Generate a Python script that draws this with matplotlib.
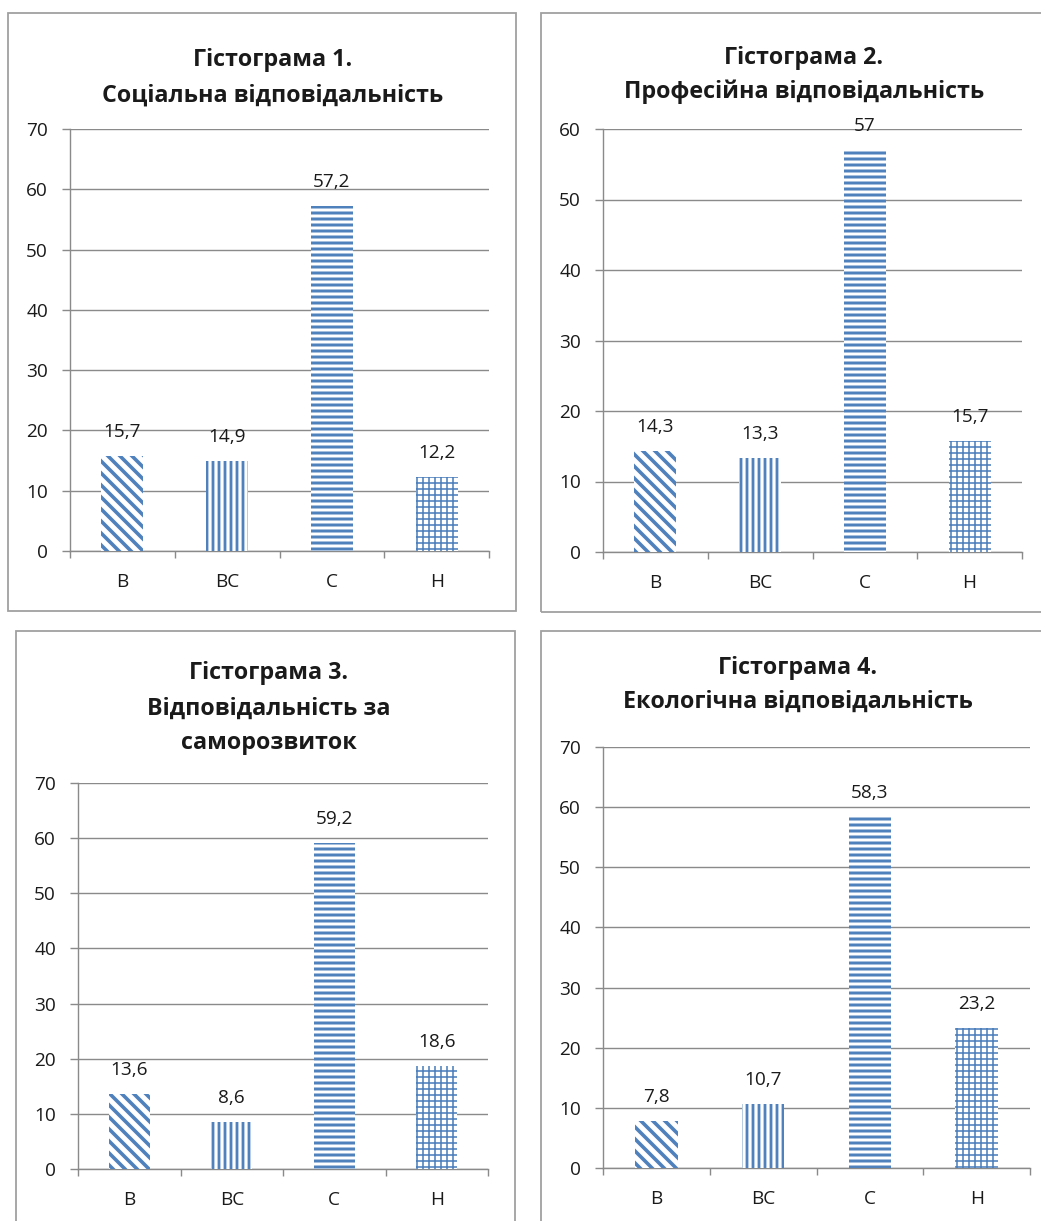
import matplotlib
matplotlib.use('Agg')
import matplotlib.pyplot as plt
from matplotlib.patches import Rectangle
from matplotlib.ticker import FixedLocator

# ---------------- data ----------------
categories = ['В', 'ВС', 'С', 'Н']

title_1 = ['Гістограма 1.', 'Соціальна відповідальність']
title_2 = ['Гістограма 2.', 'Професійна відповідальність']
title_3 = ['Гістограма 3.', 'Відповідальність за', 'саморозвиток']
title_4 = ['Гістограма 4.', 'Екологічна відповідальність']

values_1 = [15.7, 14.9, 57.2, 12.2]
values_2 = [14.3, 13.3, 57.0, 15.7]
values_3 = [13.6, 8.6, 59.2, 18.6]
values_4 = [7.8, 10.7, 58.3, 23.2]

labels_1 = ['15,7', '14,9', '57,2', '12,2']
labels_2 = ['14,3', '13,3', '57', '15,7']
labels_3 = ['13,6', '8,6', '59,2', '18,6']
labels_4 = ['7,8', '10,7', '58,3', '23,2']

ymax_1, ymax_2, ymax_3, ymax_4 = 70, 60, 70, 70

# ---------------- style ----------------
W, H = 1041, 1221
DPI = 144
plt.rcParams['font.family'] = ['Open Sans', 'DejaVu Sans']

BLUE = '#4F81BD'
GRAY = '#8a8a8a'
BOXGRAY = '#a0a0a0'
TXT = '#1a1a1a'
hatches = ['\\\\\\\\', '||||', '----', '++++']
hatch_lw = [1.8, 1.4, 1.5, 0.8]
TICK_FS = 9.5
TITLE_FS = 11.6

fig = plt.figure(figsize=(W / DPI, H / DPI), dpi=DPI)
fig.patch.set_facecolor('white')


def fx(px):
    return px / W


def fy(py):
    return 1 - py / H


def add_box(x0, y0, x1, y1):
    fig.add_artist(Rectangle((fx(x0), fy(y1)), fx(x1) - fx(x0), fy(y0) - fy(y1),
                             transform=fig.transFigure, fill=False,
                             edgecolor=BOXGRAY, linewidth=0.9))


def add_title(lines, xc, ycs):
    for line, yc in zip(lines, ycs):
        fig.text(fx(xc), fy(yc), line, ha='center', va='center',
                 fontsize=TITLE_FS, fontweight='bold', color=TXT)


def panel(rect_px, values, labels, ymax):
    x0, y0, x1, y1 = rect_px
    ax = fig.add_axes([fx(x0), fy(y1), fx(x1) - fx(x0), fy(y0) - fy(y1)])
    ax.set_facecolor('none')
    xs = list(range(len(categories)))
    for i, v in enumerate(values):
        with plt.rc_context({'hatch.linewidth': hatch_lw[i]}):
            bars = ax.bar(xs[i], v, width=0.4, facecolor='white', edgecolor=BLUE,
                          linewidth=0, hatch=hatches[i], zorder=3)
        for b in bars:
            if hasattr(b, 'set_hatch_linewidth'):
                b.set_hatch_linewidth(hatch_lw[i])
        ax.annotate(labels[i], (xs[i], v), xytext=(0, 12), textcoords='offset points',
                    ha='center', va='center', fontsize=TICK_FS, color=TXT)
    ax.set_xlim(-0.5, len(categories) - 0.5)
    ax.set_ylim(0, ymax)
    ax.set_yticks(range(0, ymax + 1, 10))
    ax.set_xticks(xs)
    ax.set_xticklabels(categories)
    ax.xaxis.set_minor_locator(FixedLocator([i - 0.5 for i in range(len(categories) + 1)]))
    ax.tick_params(axis='x', which='major', length=0, pad=11, labelsize=TICK_FS, labelcolor=TXT)
    ax.tick_params(axis='x', which='minor', length=3.5, width=0.7, color=GRAY, direction='out')
    ax.tick_params(axis='y', which='major', length=4, width=0.7, color=GRAY, pad=7,
                   labelsize=TICK_FS, labelcolor=TXT)
    ax.yaxis.grid(True, color=GRAY, linewidth=0.7, zorder=0)
    ax.set_axisbelow(True)
    for s in ['top', 'right']:
        ax.spines[s].set_visible(False)
    for s in ['left', 'bottom']:
        ax.spines[s].set_color(GRAY)
        ax.spines[s].set_linewidth(0.7)
    return ax


# panel boxes
add_box(8, 13, 516, 611)
add_box(541, 13, 1050, 612)
add_box(16, 631, 515, 1230)
add_box(541, 631, 1050, 1230)

# titles
add_title(title_1, 273, [60, 96])
add_title(title_2, 804, [58, 92])
add_title(title_3, 269, [673, 709, 743])
add_title(title_4, 798, [668, 702])

# charts
panel((70, 129, 489, 551), values_1, labels_1, ymax_1)
panel((603, 129, 1022, 552), values_2, labels_2, ymax_2)
panel((78, 783, 488, 1169), values_3, labels_3, ymax_3)
panel((603, 747, 1030, 1168), values_4, labels_4, ymax_4)

fig.savefig('out.png', dpi=DPI, facecolor='white')
